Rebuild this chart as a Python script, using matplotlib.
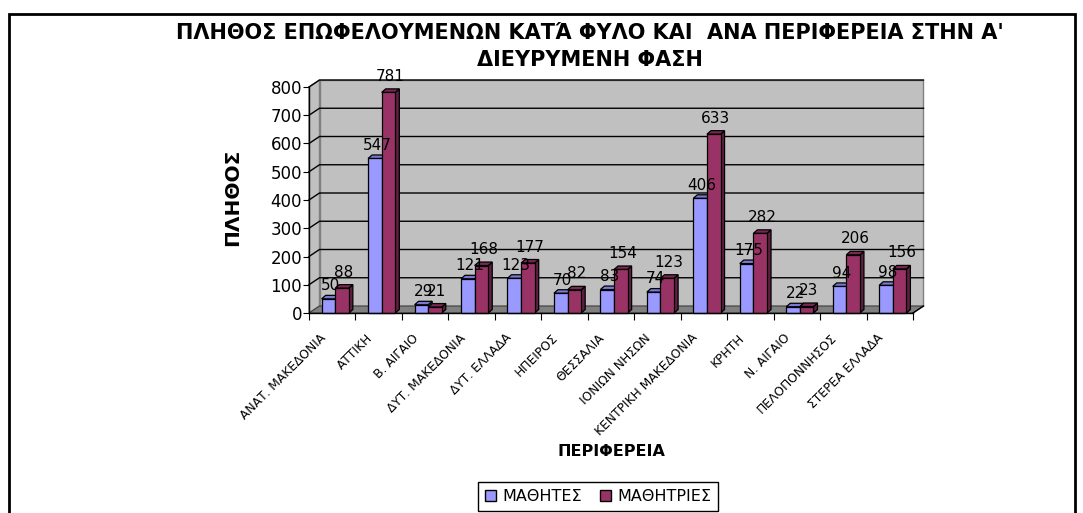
import matplotlib.pyplot as plt
from matplotlib.patches import Polygon, Patch, Rectangle

# data
regions = ["ΑΝΑΤ. ΜΑΚΕΔΟΝΙΑ", "ΑΤΤΙΚΗ", "Β. ΑΙΓΑΙΟ", "ΔΥΤ. ΜΑΚΕΔΟΝΙΑ", "ΔΥΤ. ΕΛΛΑΔΑ",
           "ΗΠΕΙΡΟΣ", "ΘΕΣΣΑΛΙΑ", "ΙΟΝΙΩΝ ΝΗΣΩΝ", "ΚΕΝΤΡΙΚΗ ΜΑΚΕΔΟΝΙΑ", "ΚΡΗΤΗ",
           "Ν. ΑΙΓΑΙΟ", "ΠΕΛΟΠΟΝΝΗΣΟΣ", "ΣΤΕΡΕΑ ΕΛΛΑΔΑ"]
boys = [50, 547, 29, 121, 123, 70, 83, 74, 406, 175, 22, 94, 98]
girls = [88, 781, 21, 168, 177, 82, 154, 123, 633, 282, 23, 206, 156]
series_names = ["ΜΑΘΗΤΕΣ", "ΜΑΘΗΤΡΙΕΣ"]
yticks = list(range(0, 900, 100))

plt.rcParams['font.family'] = 'DejaVu Sans'

W, H = 1083, 513
fig = plt.figure(figsize=(W / 100, H / 100), dpi=100)
ax = fig.add_axes([309 / W, 1 - 313 / H, 604 / W, 226 / H])
n = len(regions)
ax.set_xlim(0, n)
ax.set_ylim(0, 800)
ax.patch.set_visible(False)

# pixel -> data conversions for the fake 3d depth
px_x = n / 604
px_y = 800 / 226
wdx, wdy = 10.5 * px_x, 7 * px_y   # wall depth
bdx, bdy = 4 * px_x, 3.5 * px_y    # bar depth

wall = '#C0C0C0'
ax.add_patch(Polygon([(0, 0), (wdx, wdy), (wdx, 800 + wdy), (0, 800)],
                     fc=wall, ec='#808080', lw=1, zorder=0, clip_on=False))
ax.add_patch(Polygon([(wdx, wdy), (n + wdx, wdy), (n + wdx, 800 + wdy), (wdx, 800 + wdy)],
                     fc=wall, ec='#808080', lw=1, zorder=0, clip_on=False))
for v in yticks[1:]:
    ax.plot([0, wdx, n + wdx], [v, v + wdy, v + wdy], color='black', lw=1,
            zorder=1, clip_on=False)
ax.add_patch(Polygon([(0, 0), (n, 0), (n + wdx, wdy), (wdx, wdy)],
                     fc='#808080', ec='#404040', lw=0.8, zorder=1, clip_on=False))
ax.plot([n, n + wdx], [0, wdy], color='black', lw=1, zorder=1, clip_on=False)

bw = 0.293
shift = 0.065


def bar3d(x0, h, fc, sc, tc):
    kw = dict(ec='black', lw=0.9, zorder=3, clip_on=False)
    ax.add_patch(Polygon([(x0 + bw, 0), (x0 + bw + bdx, bdy), (x0 + bw + bdx, h + bdy), (x0 + bw, h)], fc=sc, **kw))
    ax.add_patch(Polygon([(x0, h), (x0 + bw, h), (x0 + bw + bdx, h + bdy), (x0 + bdx, h + bdy)], fc=tc, **kw))
    ax.add_patch(Polygon([(x0, 0), (x0 + bw, 0), (x0 + bw, h), (x0, h)], fc=fc, **kw))


for i in range(n):
    c = i + 0.5 + shift
    bar3d(c - bw, boys[i], '#9999FF', '#6666B8', '#7A7AD6')
    bar3d(c, girls[i], '#993366', '#5E1F40', '#7A2952')
    ax.annotate(str(boys[i]), (c - bw / 2 + bdx / 2, boys[i]), xytext=(0, 9.5),
                textcoords='offset points', ha='center', va='center',
                fontsize=11, annotation_clip=False, zorder=5)
    ax.annotate(str(girls[i]), (c + bw / 2 + bdx / 2, girls[i]), xytext=(0, 11.5),
                textcoords='offset points', ha='center', va='center',
                fontsize=11, annotation_clip=False, zorder=5)
    ax.annotate(regions[i], (i + 0.5, 0), xytext=(-6, -16.5), textcoords='offset points',
                rotation=45, rotation_mode='anchor', ha='right', va='center',
                fontsize=8.8, annotation_clip=False)

for s in ['top', 'right']:
    ax.spines[s].set_visible(False)
for s in ['left', 'bottom']:
    ax.spines[s].set_color('black')
    ax.spines[s].set_linewidth(1)
    ax.spines[s].set_zorder(4)
ax.set_yticks(yticks)
ax.set_xticks(range(n + 1))
ax.set_xticklabels([])
ax.tick_params(axis='y', direction='out', length=4, labelsize=12, pad=1)
ax.tick_params(axis='x', direction='out', length=5)

fig.text(590 / W, 1 - 33 / H, "ΠΛΗΘΟΣ ΕΠΩΦΕΛΟΥΜΕΝΩΝ ΚΑΤΆ ΦΥΛΟ ΚΑΙ  ΑΝΑ ΠΕΡΙΦΕΡΕΙΑ ΣΤΗΝ Α'",
         ha='center', va='center', fontsize=15, fontweight='bold')
fig.text(590 / W, 1 - 60 / H, "ΔΙΕΥΡΥΜΕΝΗ ΦΑΣΗ",
         ha='center', va='center', fontsize=15, fontweight='bold')
fig.text(233 / W, 1 - 197 / H, "ΠΛΗΘΟΣ", rotation=90, ha='center', va='center',
         fontsize=14.5, fontweight='bold')
fig.text(611 / W, 1 - 452 / H, "ΠΕΡΙΦΕΡΕΙΑ", ha='center', va='center',
         fontsize=11.5, fontweight='bold')

handles = [Patch(fc='#9999FF', ec='black'), Patch(fc='#993366', ec='black')]
leg = fig.legend(handles, series_names, loc='upper center', bbox_to_anchor=(598 / W, 1 - 482 / H),
                 ncol=2, frameon=True, fancybox=False, edgecolor='black', framealpha=1,
                 fontsize=11.5, handlelength=0.7, handleheight=0.7, handletextpad=0.4,
                 columnspacing=1.1, borderpad=0.45, borderaxespad=0)
leg.get_frame().set_linewidth(1)

fig.add_artist(Rectangle((9 / W, -0.1), (1075 - 9) / W, 1 - 14 / H + 0.1,
                         transform=fig.transFigure, fill=False, lw=2, ec='black'))

fig.savefig('out.png', dpi=100)
